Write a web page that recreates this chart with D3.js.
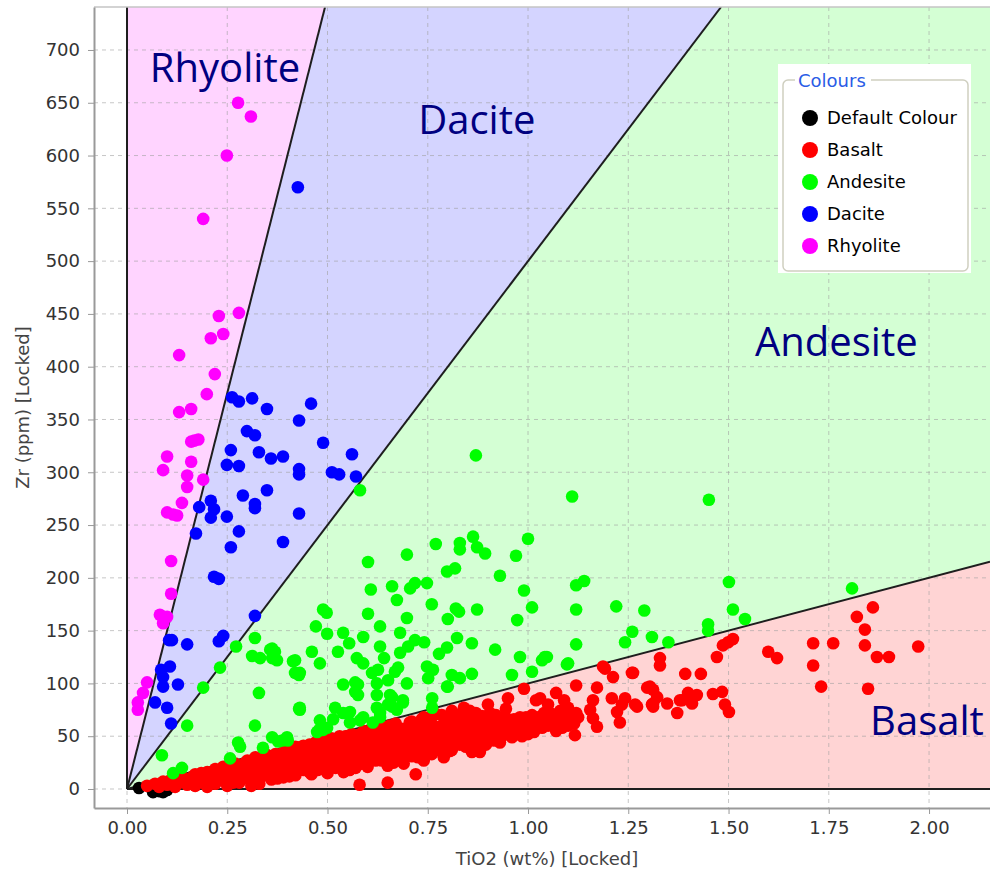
<!DOCTYPE html>
<html>
<head>
<meta charset="utf-8">
<script src="https://cdn.jsdelivr.net/npm/d3@7"></script>
<style>
  body { margin: 0; background: #fff; }
  svg { display: block; }
</style>
</head>
<body>
<div id="chart"></div>
<script>
// Zr vs TiO2 classification plot
const xTicks = [0, 0.25, 0.5, 0.75, 1.0, 1.25, 1.5, 1.75, 2.0];
const yTicks = [0, 50, 100, 150, 200, 250, 300, 350, 400, 450, 500, 550, 600, 650, 700];
const xTitle = "TiO2 (wt%) [Locked]";
const yTitle = "Zr (ppm) [Locked]";

// Zr/TiO2 ratios of the field boundaries (rhyolite|dacite, dacite|andesite, andesite|basalt)
const ratios = [1500, 500, 100];

const legendNames = ["Default Colour", "Basalt", "Andesite", "Dacite", "Rhyolite"];
const legendColours = ["#000000", "#ff0000", "#00ff00", "#0000ff", "#ff00ff"];

const fieldNames = ["Rhyolite", "Dacite", "Andesite", "Basalt"];
const fieldFills = ["#ffd4ff", "#d4d4ff", "#d4ffd4", "#ffd4d4"];
// label anchor (TiO2, Zr) for each field name
const fieldLabelAt = [[0.057, 670], [0.726, 620], [1.566, 410], [1.853, 51]];

const defaultPts = [[0.03, 1], [0.065, -3], [0.08, -2], [0.09, -3], [0.1, -1]];

const basalt = [
  [0.05,3],[0.07,5],[0.08,2],[0.09,7],[0.10,4],[0.11,9],[0.12,2],[0.13,6],
  [0.14,11],[0.15,4],[0.16,8],[0.17,14],[0.17,3],[0.18,10],[0.19,6],[0.20,16],[0.20,2],
  [0.21,11],[0.22,19],[0.22,5],[0.23,14],[0.24,8],[0.24,21],[0.25,3],[0.26,17],[0.26,11],
  [0.27,24],[0.28,6],[0.28,15],[0.29,20],[0.30,27],[0.30,10],[0.31,3],
  [0.31,17],[0.32,30],[0.32,22],[0.33,12],[0.33,5],[0.34,26],[0.35,32],[0.35,18],[0.36,9],
  [0.36,24],[0.37,33],[0.37,14],[0.38,28],[0.38,20],[0.39,35],[0.39,11],[0.40,24],[0.40,16],[0.40,37],
  [0.41,30],[0.41,20],[0.42,40],[0.42,13],[0.43,26],[0.43,34],[0.44,18],[0.44,41],[0.45,29],[0.45,22],
  [0.46,37],[0.46,14],[0.47,44],[0.47,27],[0.48,32],[0.48,19],[0.49,46],[0.49,38],[0.50,25],[0.50,15],[0.50,42],
  [0.51,33],[0.51,48],[0.52,20],[0.52,39],[0.53,28],[0.53,50],[0.54,44],[0.54,16],[0.55,35],[0.55,24],
  [0.56,52],[0.56,41],[0.57,30],[0.57,20],[0.58,47],[0.58,37],[0.58,4],[0.59,55],[0.59,26],[0.60,42],[0.60,33],[0.60,21],
  [0.61,57],[0.61,48],[0.62,38],[0.62,27],[0.63,52],[0.63,44],[0.64,32],[0.64,59],[0.65,22],[0.65,46],[0.65,6],
  [0.66,39],[0.66,55],[0.67,29],[0.67,62],[0.68,49],[0.68,43],[0.69,35],[0.69,24],[0.70,58],[0.70,52],[0.70,40],
  [0.71,64],[0.71,31],[0.72,46],[0.72,14],[0.73,55],[0.73,38],[0.74,68],[0.74,27],[0.75,50],[0.75,60],
  [0.76,43],[0.76,33],[0.77,71],[0.77,56],[0.78,47],[0.78,39],[0.79,62],[0.79,30],[0.80,52],[0.80,67],[0.80,44],
  [0.81,74],[0.81,37],[0.82,58],[0.82,49],[0.83,63],[0.83,42],[0.84,54],[0.84,77],[0.85,46],[0.85,68],
  [0.86,35],[0.86,59],[0.87,51],[0.87,72],[0.88,44],[0.88,63],[0.88,35],[0.89,55],[0.90,66],[0.90,48],[0.90,80],
  [0.91,58],[0.92,50],[0.92,70],[0.93,62],[0.93,44],[0.94,54],[0.95,66],[0.95,86],[0.96,58],[0.96,49],
  [0.97,62],[0.98,68],[0.98,54],[0.99,95],[0.99,60],[1.00,65],[1.00,52],[1.01,70],
  [1.02,58],[1.02,84],[1.03,86],[1.03,63],[1.04,72],[1.05,60],[1.05,80],[1.06,67],[1.07,91],[1.07,55],
  [1.08,74],[1.08,63],[1.09,69],[1.09,84],[1.10,60],[1.10,77],[1.11,66],[1.12,98],[1.12,72],[1.117,51],
  // second pass through the dense band
  [0.125,11],[0.145,7],[0.165,12],[0.185,15],[0.195,11],[0.205,7],[0.215,15],[0.225,10],[0.235,18],
  [0.245,13],[0.255,22],[0.265,6],[0.275,18],[0.285,11],[0.295,25],[0.305,15],[0.305,21],
  [0.315,25],[0.325,8],[0.325,16],[0.335,21],[0.335,30],[0.345,13],[0.345,33],[0.355,25],[0.365,18],
  [0.365,31],[0.375,23],[0.375,10],[0.385,32],[0.385,15],[0.395,27],[0.395,19],[0.405,31],[0.405,12],
  [0.415,25],[0.415,37],[0.425,18],[0.425,30],[0.435,21],[0.435,40],[0.445,33],[0.445,26],[0.455,16],
  [0.455,42],[0.465,31],[0.465,23],[0.475,37],[0.475,18],[0.485,41],[0.485,26],[0.495,32],[0.495,20],
  [0.505,37],[0.505,29],[0.515,44],[0.515,24],[0.525,33],[0.525,47],[0.535,38],[0.535,22],[0.545,30],
  [0.545,50],[0.555,45],[0.555,18],[0.565,36],[0.565,27],[0.575,51],[0.575,42],[0.585,32],[0.585,24],
  [0.595,46],[0.595,38],[0.605,53],[0.605,28],[0.615,43],[0.615,33],[0.625,57],[0.625,48],[0.635,37],
  [0.635,27],[0.645,51],[0.645,42],[0.655,60],[0.655,31],[0.665,46],[0.665,25],[0.675,53],[0.675,37],
  [0.685,57],[0.685,30],[0.695,46],[0.695,40],
  [0.705,63],[0.705,34],[0.715,55],[0.715,42],[0.725,60],[0.725,30],[0.735,47],[0.735,66],[0.745,54],
  [0.745,36],[0.755,42],[0.755,68],[0.765,52],[0.765,60],[0.775,37],[0.775,47],[0.785,55],[0.785,70],
  [0.795,42],[0.795,49],[0.805,59],[0.805,36],[0.815,64],[0.815,44],[0.825,53],[0.825,70],[0.835,48],
  [0.835,58],[0.845,40],[0.845,63],[0.855,55],[0.855,74],[0.865,45],[0.865,66],[0.875,58],[0.875,40],
  [0.885,69],[0.885,50],[0.895,60],[0.895,42],
  [0.905,54],[0.905,72],[0.915,64],[0.915,46],[0.925,56],[0.935,68],[0.935,50],[0.945,60],[0.945,76],
  [0.955,55],[0.965,66],[0.965,53],[0.975,57],[0.985,63],[0.985,50],[0.995,68],[1.005,58],[1.015,64],
  [1.015,54],[1.025,68],[1.035,58],[1.045,66],[1.055,72],[1.065,61],[1.075,68],[1.085,58],[1.095,73],
  [1.105,66],[1.115,62],[1.125,68],
  // scattered high-Ti basalts
  [1.155,75],[1.162,84],[1.162,67],[1.172,59],[1.172,96],[1.187,116],[1.192,114],[1.209,86],[1.212,106],
  [1.222,73],[1.229,63],[1.234,80],[1.242,86],[1.259,110],[1.262,110],[1.267,80],[1.272,78],[1.297,96],
  [1.304,97],[1.309,80],[1.312,94],[1.312,81],[1.312,78],[1.322,87],[1.329,124],[1.329,117],[1.347,81],
  [1.372,72],[1.379,84],[1.384,84],[1.392,109],[1.399,91],[1.409,81],[1.421,89],[1.431,109],[1.461,90],
  [1.471,125],[1.484,92],[1.486,136],[1.491,80],[1.499,139],[1.501,73],[1.511,142],[1.599,130],[1.621,124],
  [1.711,138],[1.711,117],[1.731,97],[1.761,138],[1.82,163],[1.84,151],[1.84,136],[1.848,95],[1.86,172],
  [1.87,125],[1.9,125],[1.973,135]
];

const andesite = [
  [0.87,316],[1.11,277],[1.451,274],[0.581,283],
  [1.0,237],[0.863,239],[0.873,229],[0.83,233],[0.83,227],[0.77,232],[0.893,223],[0.97,221],[0.698,222],[0.601,215],
  [0.798,206],[0.818,209],[0.93,202],[0.718,195],[0.706,190],[0.748,195],[0.661,192],[0.608,189],[0.99,188],
  [1.12,193],[1.14,197],[0.673,179],[0.76,175],[0.82,171],[0.828,168],[0.873,170],[1.01,172],[1.12,170],
  [1.22,173],[1.29,169],[0.489,170],[0.498,167],[0.601,166],[0.698,162],[0.8,161],[0.973,160],
  [0.471,154],[0.631,154],[0.681,148],[0.499,147],[0.539,148],[0.589,144],[0.718,141],[0.741,139],[0.823,143],
  [0.86,138],[1.12,137],[1.242,139],[1.26,149],[1.309,144],[1.35,139],
  [0.461,130],[0.526,130],[0.554,138],[0.631,135],[0.701,135],[0.681,129],[0.918,132],[1.047,125],[1.035,122],
  [0.98,125],[0.778,128],[0.798,134],[0.481,119],[0.573,124],[0.589,119],[0.641,124],[0.748,116],[0.763,113],
  [0.611,110],[0.626,113],[0.668,111],[0.676,115],[0.81,108],[0.86,109],[0.96,108],[1.01,111],[1.097,118],[0.431,110],
  [0.539,99],[0.569,101],[0.623,100],[0.651,103],[0.698,100],[0.751,105],[0.798,97],[0.83,105],
  [0.569,92],[0.623,89],[0.688,82],[0.656,89],[0.431,77],[0.519,77],[0.539,72],[0.556,73],
  [0.481,65],[0.514,66],[0.556,63],[0.581,65],[0.613,63],[0.631,68],[0.474,54],[0.499,58],[0.651,80],[0.673,75],[0.761,77],
  [1.042,125],[1.1,119],[1.501,196],[1.808,190],[1.511,170],[1.541,161],[1.449,156],[1.449,150],
  [0.319,143],[0.362,133],[0.369,130],[0.312,126],[0.332,124],[0.362,124],[0.414,121],[0.419,110],[0.429,108],
  [0.272,135],[0.232,115],[0.19,96],[0.329,91],[0.576,99],[0.576,89],[0.429,76],[0.15,60],[0.319,60],
  [0.362,49],[0.277,44],[0.282,40],[0.387,46],[0.479,56],[0.087,32],[0.257,29],[0.137,20],[0.115,15],
  [0.339,39],[0.401,46],[0.374,122],[0.357,132],[0.431,75],[0.399,49],[0.377,45],[0.489,56],[0.419,122],
  [0.661,87],[0.623,77],[0.661,78],[0.688,84],[0.761,86],[0.8,97],[0.589,68],[0.631,72]
];

const dacite = [
  [0.426,570],[0.262,371],[0.279,367],[0.312,370],[0.349,360],[0.459,365],[0.429,349],[0.299,339],[0.319,335],
  [0.489,328],[0.259,321],[0.329,319],[0.359,313],[0.389,315],[0.561,317],[0.249,307],[0.279,306],[0.429,303],
  [0.429,298],[0.511,300],[0.529,298],[0.571,296],[0.349,283],[0.289,278],[0.319,270],[0.319,266],[0.209,273],
  [0.217,265],[0.18,267],[0.209,257],[0.249,258],[0.429,261],[0.172,242],[0.279,244],[0.389,234],[0.259,229],
  [0.217,201],[0.229,199],[0.319,164],[0.105,141],[0.112,141],[0.15,137],[0.229,140],[0.24,145],[0.107,116],
  [0.085,113],[0.09,106],[0.09,97],[0.127,99],[0.07,82],[0.1,77],[0.11,62]
];

const rhyolite = [
  [0.277,650],[0.309,637],[0.249,600],[0.19,540],[0.229,448],[0.279,451],[0.209,427],[0.24,431],[0.13,411],
  [0.219,393],[0.199,374],[0.13,357],[0.16,360],[0.16,329],[0.168,330],[0.178,331],[0.1,315],[0.09,302],
  [0.16,310],[0.15,297],[0.15,286],[0.19,293],[0.137,271],[0.1,262],[0.115,260],[0.125,259],[0.11,216],
  [0.11,185],[0.082,165],[0.09,157],[0.1,163],[0.05,101],[0.04,91],[0.027,82],[0.027,75]
];

const series = [defaultPts, basalt, andesite, dacite, rhyolite];

const W = 990, H = 874;
const plot = { left: 94, top: 7, right: 990, bottom: 808 };

const x = d3.scaleLinear().domain([-0.0823, 2.152]).range([plot.left, plot.right]);
const y = d3.scaleLinear().domain([-18, 740.7]).range([plot.bottom, plot.top]);

const svg = d3.select("#chart").append("svg")
  .attr("width", W)
  .attr("height", H)
  .style("font-family", "'DejaVu Sans', sans-serif");

svg.append("defs").append("clipPath").attr("id", "clip")
  .append("rect")
  .attr("x", plot.left).attr("y", plot.top)
  .attr("width", plot.right - plot.left).attr("height", plot.bottom - plot.top);

const area = svg.append("g").attr("clip-path", "url(#clip)");

// field polygons, all radiating from the origin
const xMax = x.domain()[1], yMax = y.domain()[1];
const fields = [
  [[0, 0], [0, yMax], [yMax / ratios[0], yMax]],
  [[0, 0], [yMax / ratios[0], yMax], [yMax / ratios[1], yMax]],
  [[0, 0], [yMax / ratios[1], yMax], [xMax, yMax], [xMax, ratios[2] * xMax]],
  [[0, 0], [xMax, ratios[2] * xMax], [xMax, 0]]
];
const poly = d3.line().x(d => x(d[0])).y(d => y(d[1]));

area.selectAll("path.field")
  .data(fields)
  .join("path")
    .attr("class", "field")
    .attr("d", d => poly(d) + "Z")
    .attr("fill", (d, i) => fieldFills[i]);

// dashed grid
area.selectAll("line.vgrid")
  .data(xTicks)
  .join("line")
    .attr("x1", d => x(d)).attr("x2", d => x(d))
    .attr("y1", plot.top).attr("y2", plot.bottom)
    .attr("stroke", "#a0a0a0").attr("stroke-opacity", 0.6)
    .attr("stroke-dasharray", "4,4");
area.selectAll("line.hgrid")
  .data(yTicks)
  .join("line")
    .attr("x1", plot.left).attr("x2", plot.right)
    .attr("y1", d => y(d)).attr("y2", d => y(d))
    .attr("stroke", "#a0a0a0").attr("stroke-opacity", 0.6)
    .attr("stroke-dasharray", "4,4");

// boundary lines
const bounds = [
  [[0, 0], [0, yMax]],
  [[0, 0], [yMax / ratios[0], yMax]],
  [[0, 0], [yMax / ratios[1], yMax]],
  [[0, 0], [xMax, ratios[2] * xMax]],
  [[0, 0], [xMax, 0]]
];
area.selectAll("path.bound")
  .data(bounds)
  .join("path")
    .attr("d", poly)
    .attr("fill", "none")
    .attr("stroke", "#1e1e1e")
    .attr("stroke-width", 2);

// points
series.forEach((pts, i) => {
  area.append("g").selectAll("circle")
    .data(pts)
    .join("circle")
      .attr("cx", d => x(d[0]))
      .attr("cy", d => y(d[1]))
      .attr("r", 6.3)
      .attr("fill", legendColours[i]);
});

// field names
area.selectAll("text.field")
  .data(fieldNames)
  .join("text")
    .attr("x", (d, i) => x(fieldLabelAt[i][0]))
    .attr("y", (d, i) => y(fieldLabelAt[i][1]))
    .attr("fill", "#000080")
    .style("font-family", "'Open Sans', sans-serif")
    .style("font-size", "40px")
    .text(d => d);

// top border
svg.append("line")
  .attr("x1", plot.left).attr("x2", plot.right)
  .attr("y1", plot.top).attr("y2", plot.top)
  .attr("stroke", "#c4c4c4").attr("stroke-width", 1.5);

// axes
const xAxis = svg.append("g")
  .attr("transform", `translate(0,${plot.bottom})`)
  .call(d3.axisBottom(x).tickValues(xTicks).tickFormat(d3.format(".2f"))
    .tickSize(6).tickSizeOuter(0).tickPadding(7));
const yAxis = svg.append("g")
  .attr("transform", `translate(${plot.left},0)`)
  .call(d3.axisLeft(y).tickValues(yTicks).tickSize(6).tickSizeOuter(0).tickPadding(8));

[xAxis, yAxis].forEach(g => {
  g.select(".domain").attr("stroke", "#999").attr("stroke-width", 2);
  g.selectAll(".tick line").attr("stroke", "#999");
  g.selectAll(".tick text")
    .attr("fill", "#333")
    .style("font-family", "'DejaVu Sans', sans-serif")
    .style("font-size", "18px");
});

svg.append("text")
  .attr("x", 547).attr("y", 865)
  .attr("text-anchor", "middle")
  .attr("fill", "#444")
  .style("font-size", "18px")
  .text(xTitle);

svg.append("text")
  .attr("transform", `translate(29,${(plot.top + plot.bottom) / 2}) rotate(-90)`)
  .attr("text-anchor", "middle")
  .attr("fill", "#444")
  .style("font-size", "18px")
  .text(yTitle);

// legend
const legend = svg.append("g").attr("transform", "translate(778,64)");
legend.append("rect")
  .attr("width", 193).attr("height", 209)
  .attr("fill", "#fff");
legend.append("rect")
  .attr("x", 5).attr("y", 16)
  .attr("width", 185).attr("height", 191)
  .attr("rx", 5)
  .attr("fill", "none")
  .attr("stroke", "#cfcfc0")
  .attr("stroke-width", 1.5);
legend.append("rect")
  .attr("x", 17).attr("y", 6)
  .attr("width", 76).attr("height", 20)
  .attr("fill", "#fff");
legend.append("text")
  .attr("x", 20).attr("y", 23)
  .attr("fill", "#2b5ce6")
  .style("font-size", "18px")
  .text("Colours");

const item = legend.selectAll("g.item")
  .data(legendNames)
  .join("g")
    .attr("class", "item")
    .attr("transform", (d, i) => `translate(0,${54 + i * 32})`);
item.append("circle")
  .attr("cx", 32).attr("r", 8)
  .attr("fill", (d, i) => legendColours[i]);
item.append("text")
  .attr("x", 49).attr("dy", "0.36em")
  .attr("fill", "#000")
  .style("font-size", "18px")
  .text(d => d);
</script>
</body>
</html>
